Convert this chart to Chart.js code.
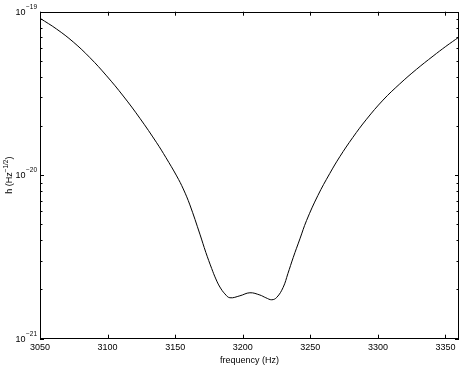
<!DOCTYPE html>
<html>
<head>
<meta charset="utf-8">
<script src="https://cdn.jsdelivr.net/npm/chart.js@4"></script>
<style>
  html, body { margin: 0; padding: 0; background: #fff; }
  canvas { display: block; }
</style>
</head>
<body>
<canvas id="c" width="463" height="367"></canvas>
<script>
// Data
const freqs = [3050, 3062.3, 3074.6, 3087.0, 3099.3, 3111.6, 3123.9, 3136.3, 3143.2, 3151.1, 3156.0, 3160.9, 3168.3, 3172.7, 3177.0, 3180.1, 3183.1, 3186.8, 3190.5, 3197.9, 3205.3, 3212.7, 3217.1, 3221.5, 3225.2, 3229.9, 3233.4, 3237.3, 3242.3, 3247.2, 3255.6, 3264.4, 3271.8, 3281.4, 3291.6, 3303.8, 3316.2, 3328.5, 3340.8, 3350.2, 3360];
const hvals = [9.12e-20, 7.83e-20, 6.53e-20, 5.23e-20, 4.05e-20, 3.05e-20, 2.23e-20, 1.58e-20, 1.28e-20, 9.90e-21, 8.24e-21, 6.58e-21, 4.36e-21, 3.37e-21, 2.69e-21, 2.32e-21, 2.07e-21, 1.88e-21, 1.78e-21, 1.83e-21, 1.91e-21, 1.85e-21, 1.78e-21, 1.73e-21, 1.79e-21, 2.06e-21, 2.50e-21, 3.13e-21, 4.08e-21, 5.28e-21, 7.52e-21, 1.025e-20, 1.297e-20, 1.70e-20, 2.20e-20, 2.88e-20, 3.62e-20, 4.44e-20, 5.35e-20, 6.13e-20, 7.00e-20];
const xTickValues = [3050, 3100, 3150, 3200, 3250, 3300, 3350];
const yMajorTicks = [1e-21, 1e-20, 1e-19];
const yTickExponents = ['\u221221', '\u221220', '\u221219'];
const xTitle = 'frequency (Hz)';
const yTitleMain = 'h (Hz';
const yTitleSup = '\u22121/2';
const yTitleEnd = ')';

const FONT = '"Liberation Sans", Arial, Helvetica, sans-serif';

const points = freqs.map((f, i) => ({ x: f, y: hvals[i] }));

const framePlugin = {
  id: 'frame',
  afterDraw(chart) {
    const ctx = chart.ctx;
    const a = chart.chartArea;
    const xs = chart.scales.x, ys = chart.scales.y;
    ctx.save();
    ctx.strokeStyle = '#000';
    ctx.lineWidth = 1;
    // box
    ctx.strokeRect(Math.round(a.left) + 0.5, Math.round(a.top) + 0.5,
                   Math.round(a.right) - Math.round(a.left) - 1, Math.round(a.bottom) - Math.round(a.top) - 1);
    ctx.beginPath();
    // x ticks inward, bottom and top
    xTickValues.forEach(v => {
      const px = Math.round(xs.getPixelForValue(v)) + 0.5;
      ctx.moveTo(px, a.bottom); ctx.lineTo(px, a.bottom - 4);
      ctx.moveTo(px, a.top); ctx.lineTo(px, a.top + 4);
    });
    // y ticks (major and minor) inward on left and right
    for (let d = -21; d <= -19; d++) {
      for (let m = 1; m <= 9; m++) {
        const v = m * Math.pow(10, d);
        if (v > 1.0001e-19) break;
        const py = Math.round(ys.getPixelForValue(v)) + 0.5;
        const len = m === 1 ? 4 : 2.5;
        ctx.moveTo(a.left, py); ctx.lineTo(a.left + len, py);
        ctx.moveTo(a.right, py); ctx.lineTo(a.right - len, py);
      }
    }
    ctx.stroke();

    // y tick labels with superscripts
    ctx.fillStyle = '#000';
    ctx.textBaseline = 'middle';
    yMajorTicks.forEach((v, i) => {
      const py = ys.getPixelForValue(v);
      ctx.font = '6.5px ' + FONT;
      const supW = ctx.measureText(yTickExponents[i]).width;
      ctx.textAlign = 'left';
      const supX = a.left - 3 - supW;
      ctx.fillText(yTickExponents[i], supX, py - 4.5);
      ctx.font = '9px ' + FONT;
      ctx.textAlign = 'right';
      ctx.fillText('10', supX - 0.5, py + 0.5);
    });

    // y title rotated
    ctx.save();
    ctx.translate(10, (a.top + a.bottom) / 2);
    ctx.rotate(-Math.PI / 2);
    ctx.font = '9px ' + FONT;
    const w1 = ctx.measureText(yTitleMain).width;
    const w3 = ctx.measureText(yTitleEnd).width;
    ctx.font = '6.5px ' + FONT;
    const w2 = ctx.measureText(yTitleSup).width;
    const total = w1 + w2 + w3;
    let x0 = -total / 2;
    ctx.textAlign = 'left';
    ctx.font = '9px ' + FONT;
    ctx.fillText(yTitleMain, x0, 0);
    ctx.font = '6.5px ' + FONT;
    ctx.fillText(yTitleSup, x0 + w1, -4);
    ctx.font = '9px ' + FONT;
    ctx.fillText(yTitleEnd, x0 + w1 + w2, 0);
    ctx.restore();

    ctx.restore();
  }
};

new Chart(document.getElementById('c'), {
  type: 'line',
  data: {
    datasets: [{
      data: points,
      borderColor: '#000',
      borderWidth: 1,
      pointRadius: 0,
      fill: false,
      tension: 0.4
    }]
  },
  options: {
    responsive: false,
    animation: false,
    devicePixelRatio: 1,
    layout: { padding: { left: 40, top: 11.7, right: 4, bottom: 0.7 } },
    plugins: { legend: { display: false }, tooltip: { enabled: false } },
    scales: {
      x: {
        type: 'linear',
        min: 3050,
        max: 3360,
        afterBuildTicks(scale) { scale.ticks = xTickValues.map(v => ({ value: v })); },
        ticks: {
          color: '#000',
          font: { family: FONT, size: 9 },
          padding: 3,
          maxRotation: 0,
          autoSkip: false,
          callback: v => String(v)
        },
        grid: { display: false, drawTicks: false },
        border: { display: false },
        title: {
          display: true,
          text: xTitle,
          color: '#000',
          font: { family: FONT, size: 9 },
          padding: { top: 0, bottom: 0 }
        }
      },
      y: {
        type: 'logarithmic',
        min: 1e-21,
        max: 1e-19,
        ticks: { display: false },
        grid: { display: false, drawTicks: false },
        border: { display: false }
      }
    }
  },
  plugins: [framePlugin]
});
</script>
</body>
</html>
